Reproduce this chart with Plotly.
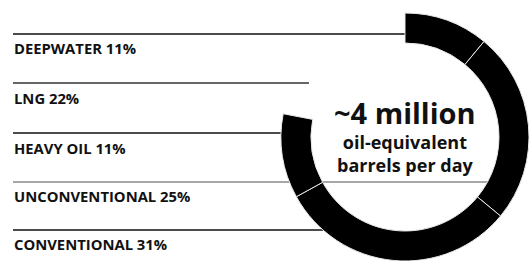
import plotly.graph_objects as go

W, H = 531, 261

# Data (shares of production, %)
categories = ["DEEPWATER", "LNG", "HEAVY OIL", "UNCONVENTIONAL", "CONVENTIONAL"]
shares = [11, 22, 11, 25, 31]
# ring order (clockwise from 12 o'clock); LNG is left as the open gap
ring_order = ["DEEPWATER", "UNCONVENTIONAL", "CONVENTIONAL", "HEAVY OIL", "LNG"]
center_title = "~4 million"
center_sub = ["oil-equivalent", "barrels per day"]

share_of = dict(zip(categories, shares))
ring_values = [share_of[c] for c in ring_order]
ring_colors = ["#000000" if c != "LNG" else "rgba(0,0,0,0)" for c in ring_order]
ring_line_w = [1 if c != "LNG" else 0 for c in ring_order]
ring_line_c = ["#e8e8e8" if c != "LNG" else "rgba(0,0,0,0)" for c in ring_order]

def px(x):
    return x / W

def py(y):
    return 1 - y / H

fig = go.Figure()
fig.add_trace(go.Pie(
    labels=ring_order,
    values=ring_values,
    sort=False,
    direction="clockwise",
    rotation=0,
    hole=0.758,
    marker=dict(colors=ring_colors, line=dict(color=ring_line_c, width=ring_line_w)),
    textinfo="none",
    hoverinfo="none",
    showlegend=False,
    domain=dict(x=[px(281), px(529)], y=[0, py(13)]),
))

# label rows: leader line y, end x, line color, label center y
rows = {
    "DEEPWATER": (34, 410, "#111111", 47),
    "LNG": (83, 309, "#333333", 97),
    "HEAVY OIL": (133, 295, "#111111", 147),
    "UNCONVENTIONAL": (182, 492, "#8a8a8a", 195),
    "CONVENTIONAL": (230, 330, "#111111", 243),
}
shapes = []
annotations = []
for cat, val in zip(categories, shares):
    ly, lx2, lc, ty = rows[cat]
    shapes.append(dict(type="line", xref="paper", yref="paper",
                       x0=px(13), x1=px(lx2), y0=py(ly), y1=py(ly),
                       line=dict(color=lc, width=1.3), layer="below"))
    annotations.append(dict(
        text=f"<b>{cat}</b> <b>{val}%</b>", xref="paper", yref="paper",
        x=px(12), y=py(ty + 1), xanchor="left", yanchor="middle",
        showarrow=False, font=dict(family="Open Sans", size=14.8, color="#111111")))

annotations.append(dict(text=f"<b>{center_title}</b>", xref="paper", yref="paper",
                        x=px(405), y=py(112), xanchor="center", yanchor="middle",
                        showarrow=False,
                        font=dict(family="Open Sans", size=29, color="#111111")))
annotations.append(dict(text="<br>".join(f"<b>{t}</b>" for t in center_sub),
                        xref="paper", yref="paper",
                        x=px(405), y=py(153), xanchor="center", yanchor="middle",
                        showarrow=False, borderpad=0,
                        font=dict(family="Open Sans", size=18, color="#111111")))

fig.update_layout(
    width=W, height=H,
    margin=dict(l=0, r=0, t=0, b=0),
    paper_bgcolor="white", plot_bgcolor="white",
    shapes=shapes, annotations=annotations,
)

fig.write_html("out.html", config={"displayModeBar": False},
               post_script="document.body.style.margin='0';")
